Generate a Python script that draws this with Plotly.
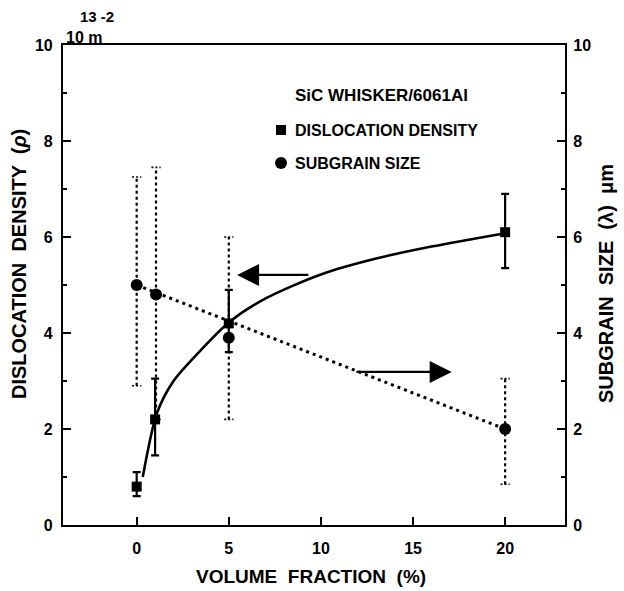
import plotly.graph_objects as go

# ---- data ----
vf_disl = [0, 1.0, 5.0, 20.0]
disl = [0.8, 2.2, 4.2, 6.1]
disl_lo = [0.6, 1.45, 3.6, 5.35]
disl_hi = [1.1, 3.05, 4.9, 6.9]

vf_sub = [0.0, 1.05, 5.0, 20.0]
sub = [5.0, 4.8, 3.9, 2.0]
sub_lo = [2.9, 2.2, 2.2, 0.85]
sub_hi = [7.25, 7.45, 6.0, 3.05]

# fitted curve for dislocation density (solid)
curve_x = [0.33, 1.1, 2.0, 3.5, 5.0, 7.0, 10.0, 13.0, 16.0, 20.0]
curve_y = [1.0, 2.33, 3.0, 3.65, 4.22, 4.72, 5.22, 5.55, 5.8, 6.08]

# fitted line for subgrain size (dotted)
fit_x = [0.0, 20.0]
fit_y = [5.0, 2.0]

x_ticks = [0, 5, 10, 15, 20]
y_ticks = [0, 2, 4, 6, 8, 10]

FONT = "Liberation Sans"
fs = 16

L, R, T, B = 63, 59, 45, 66
W, H = 624, 591
pw, ph = W - L - R, H - T - B

fig = go.Figure()

fig.add_trace(go.Scatter(x=curve_x, y=curve_y, mode="lines",
                         line=dict(color="black", width=2.6, shape="spline", smoothing=0.8),
                         showlegend=False, hoverinfo="skip"))

fig.add_trace(go.Scatter(x=fit_x, y=fit_y, mode="lines", yaxis="y2",
                         line=dict(color="black", width=3, dash="3px,4px"),
                         showlegend=False, hoverinfo="skip"))

# dotted error bars for subgrain size
ex, ey = [], []
for xv, lo, hi in zip(vf_sub, sub_lo, sub_hi):
    ex += [xv, xv, None]
    ey += [lo, hi, None]
fig.add_trace(go.Scatter(x=ex, y=ey, mode="lines", yaxis="y2",
                         line=dict(color="black", width=2.2, dash="3px,3px"),
                         showlegend=False, hoverinfo="skip"))
cx, cy = [], []
for xv, lo, hi in zip(vf_sub, sub_lo, sub_hi):
    for v in (lo, hi):
        cx += [xv - 0.25, xv + 0.25, None]
        cy += [v, v, None]
fig.add_trace(go.Scatter(x=cx, y=cy, mode="lines", yaxis="y2",
                         line=dict(color="black", width=1.6, dash="2px,2px"),
                         showlegend=False, hoverinfo="skip"))

fig.add_trace(go.Scatter(x=vf_sub, y=sub, mode="markers", yaxis="y2",
                         marker=dict(symbol="circle", size=12, color="black"),
                         showlegend=False))

fig.add_trace(go.Scatter(
    x=vf_disl, y=disl, mode="markers",
    marker=dict(symbol="square", size=10, color="black"),
    error_y=dict(type="data", symmetric=False,
                 array=[h - v for h, v in zip(disl_hi, disl)],
                 arrayminus=[v - l for v, l in zip(disl, disl_lo)],
                 color="black", thickness=2.2, width=4),
    showlegend=False))

# arrows
for (tx, ty, sx, sy) in [(5.45, 5.21, 9.4, 5.21), (17.1, 3.19, 11.85, 3.19)]:
    fig.add_annotation(x=tx, y=ty, ax=sx, ay=sy, xref="x", yref="y",
                       axref="x", ayref="y", showarrow=True, arrowhead=2,
                       arrowsize=2.0, arrowwidth=2.2, arrowcolor="black", text="")


def px_ann(x, y, text, size=fs, angle=0, xanchor="center"):
    fig.add_annotation(x=(x - L) / pw, y=1 - (y - T) / ph, xref="paper", yref="paper",
                       text=text, showarrow=False, textangle=angle,
                       xanchor=xanchor, yanchor="middle",
                       font=dict(family=FONT, size=size, color="black", weight="bold"))


# legend (as annotations)
px_ann(293, 96, "SiC WHISKER/6061Al", size=17, xanchor="left")
fig.add_trace(go.Scatter(x=[(281 - L) / pw], y=[1 - (130 - T) / ph], xaxis="x2", yaxis="y3",
                         mode="markers", marker=dict(symbol="square", size=10, color="black"),
                         showlegend=False, hoverinfo="skip"))
fig.add_trace(go.Scatter(x=[(281 - L) / pw], y=[1 - (163 - T) / ph], xaxis="x2", yaxis="y3",
                         mode="markers", marker=dict(symbol="circle", size=12, color="black"),
                         showlegend=False, hoverinfo="skip"))
px_ann(293, 130, "DISLOCATION DENSITY", xanchor="left")
px_ann(293, 163, "SUBGRAIN SIZE", xanchor="left")

px_ann(84, 37, "10 m", size=16)
px_ann(97, 17, "13 -2", size=15)
px_ann(311, 576, "VOLUME  FRACTION  (%)", size=19)
px_ann(19, 264, "DISLOCATION  DENSITY  (<i>ρ</i>)", size=20, angle=-90)
px_ann(606, 284, "SUBGRAIN  SIZE  (λ)  μm", size=20, angle=-90)

axis_common = dict(showgrid=False, zeroline=False, showline=True, linecolor="black",
                   linewidth=2.2, ticks="inside", tickcolor="black", tickwidth=2,
                   ticklen=8, tickfont=dict(family=FONT, size=fs, color="black", weight="bold"))

fig.update_layout(
    width=W, height=H,
    margin=dict(l=L, r=R, t=T, b=B),
    paper_bgcolor="white", plot_bgcolor="white",
    showlegend=False,
    xaxis=dict(range=[-4.0, 23.25], tickvals=x_ticks, mirror=True,
               ticklabelstandoff=8, **axis_common),
    yaxis=dict(range=[0, 10], tickvals=y_ticks, ticklabelstandoff=5,
               minor=dict(tickvals=[1, 3, 5, 7, 9], ticks="inside", ticklen=4,
                          tickcolor="black", tickwidth=1.5),
               **axis_common),
    yaxis2=dict(range=[0, 10], tickvals=y_ticks, overlaying="y", side="right",
                ticklabelstandoff=3,
                minor=dict(tickvals=[1, 3, 5, 7, 9], ticks="inside", ticklen=4,
                           tickcolor="black", tickwidth=1.5),
                **axis_common),
    xaxis2=dict(range=[0, 1], overlaying="x", visible=False),
    yaxis3=dict(range=[0, 1], overlaying="y", visible=False),
)

fig.write_html("out.html")
